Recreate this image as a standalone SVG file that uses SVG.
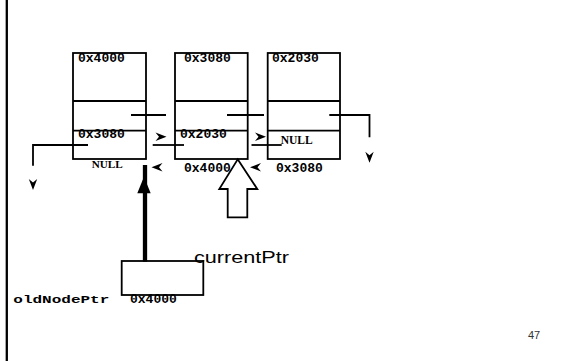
<svg xmlns="http://www.w3.org/2000/svg" xmlns:xlink="http://www.w3.org/1999/xlink" width="585" height="361" viewBox="0 0 585 361">
<style>
.box{fill:none;stroke:#000;stroke-width:1.8}
.ln{fill:none;stroke:#000;stroke-width:1.8}
.hex{font-family:"Liberation Mono","Courier New",monospace;font-weight:bold;font-size:13px;fill:#000}
.null{font-family:"Liberation Serif","Times New Roman",serif;font-weight:bold;font-size:10.5px;fill:#000}
</style>
<defs>
<path id="ah" d="M0,0 L-11,-4.2 L-7.5,0 L-11,4.2 Z" fill="#000"/>
</defs>
<rect width="585" height="361" fill="#fff"/>
<line x1="6.8" y1="0" x2="6.8" y2="361" stroke="#000" stroke-width="2.3"/>

<g id="node1">
<rect class="box" x="73" y="53" width="73" height="106"/>
<line class="ln" x1="73" y1="101" x2="146" y2="101"/>
<line class="ln" x1="73" y1="130.7" x2="146" y2="130.7"/>
<text class="hex" x="78" y="62">0x4000</text>
<text class="hex" x="78" y="138">0x3080</text>
<text class="null" x="91.7" y="167.7" textLength="31" lengthAdjust="spacingAndGlyphs">NULL</text>
</g>

<g id="node2">
<rect class="box" x="175" y="53" width="72.7" height="106"/>
<line class="ln" x1="175" y1="101" x2="247.7" y2="101"/>
<line class="ln" x1="175" y1="130.7" x2="247.7" y2="130.7"/>
<text class="hex" x="184" y="62">0x3080</text>
<text class="hex" x="180" y="138">0x2030</text>
<text class="hex" x="184" y="171.7">0x4000</text>
</g>

<g id="node3">
<rect class="box" x="267.7" y="53" width="72.3" height="106"/>
<line class="ln" x1="267.7" y1="101" x2="340" y2="101"/>
<line class="ln" x1="267.7" y1="130.7" x2="340" y2="130.7"/>
<text class="hex" x="272" y="62">0x2030</text>
<text class="null" x="280.7" y="144" textLength="32" lengthAdjust="spacingAndGlyphs" style="font-size:11.5px">NULL</text>
<text class="hex" x="276" y="171.7">0x3080</text>
</g>

<g id="oldNodePtr">
<rect class="box" x="121.7" y="261" width="81.6" height="34"/>
<text class="hex" x="130" y="302.7">0x4000</text>
<text class="hex" x="13.3" y="303.3" textLength="96" lengthAdjust="spacingAndGlyphs" style="font-size:11px">oldNodePtr</text>
</g>

<g id="currentPtr">
<polygon points="237.7,159.3 257.3,189 247.3,189 247.3,217.3 227.7,217.3 227.7,189 219.3,189" fill="#fff" stroke="#000" stroke-width="1.8" stroke-linejoin="miter"/>
<text x="194" y="263.3" textLength="95" lengthAdjust="spacingAndGlyphs" font-family="Liberation Sans, Arial, sans-serif" font-size="16.5" fill="#000">currentPtr</text>
</g>

<g id="connectors">
<line class="ln" x1="131" y1="115" x2="166" y2="115"/>
<line class="ln" x1="227" y1="115" x2="264" y2="115"/>
<polyline class="ln" points="329.3,115 369.5,115 369.5,137.3"/>
<polyline class="ln" points="88,145 33,145 33,165.7"/>
<line class="ln" x1="152.7" y1="145" x2="184" y2="145"/>
<line class="ln" x1="251.5" y1="145" x2="281.7" y2="145"/>
<use xlink:href="#ah" transform="translate(166.5,136.8)"/>
<use xlink:href="#ah" transform="translate(266,136.8)"/>
<use xlink:href="#ah" transform="translate(151.5,167.3) rotate(180)"/>
<use xlink:href="#ah" transform="translate(250,167.3) rotate(180)"/>
<use xlink:href="#ah" transform="translate(33,190) rotate(90)"/>
<use xlink:href="#ah" transform="translate(369.5,162.7) rotate(90)"/>
<line x1="145" y1="165" x2="145" y2="261.7" stroke="#000" stroke-width="4.3"/>
<polygon points="144,176.7 150.7,193.3 137.3,193.3" fill="#000"/>
</g>

<text x="528" y="339" font-family="Liberation Sans, Arial, sans-serif" font-size="11" fill="#333">47</text>
</svg>
